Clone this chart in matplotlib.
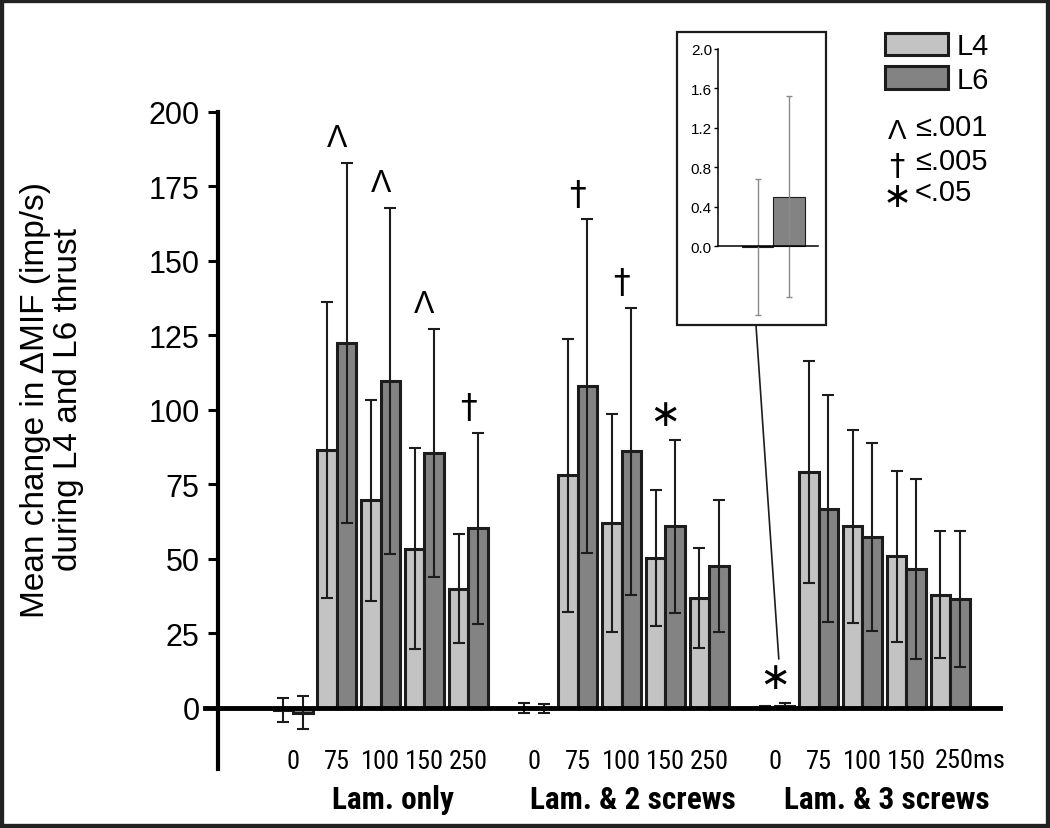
import matplotlib
matplotlib.use("Agg")
import matplotlib.pyplot as plt
import numpy as np
from matplotlib.patches import Rectangle, ConnectionPatch

plt.rcParams['font.family'] = ['Liberation Sans', 'DejaVu Sans']
NARROW = ['Liberation Sans Narrow', 'Roboto Condensed', 'DejaVu Sans']

# --- data ---
delays = ["0", "75", "100", "150", "250"]
conditions = ["Lam. only", "Lam. & 2 screws", "Lam. & 3 screws"]

l4_mean = [-0.8, 86.5, 69.5, 53.3, 39.9,
           -0.2, 77.9, 61.9, 50.2, 36.7,
           -0.01, 79.1, 60.8, 50.7, 37.9]
l4_err = [4.0, 49.7, 33.6, 33.8, 18.3,
          1.6, 45.7, 36.6, 22.8, 16.8,
          0.69, 37.2, 32.3, 28.7, 21.2]
l6_mean = [-1.7, 122.3, 109.5, 85.4, 60.2,
           -0.3, 107.8, 86.0, 60.8, 47.4,
           0.5, 66.8, 57.3, 46.5, 36.4]
l6_err = [5.6, 60.4, 58.1, 41.6, 32.0,
          1.6, 56.0, 48.2, 29.0, 22.2,
          1.02, 38.1, 31.5, 30.3, 22.9]

# significance marks: (bar pair index, symbol)
sig_marks = [(1, "Λ"), (2, "Λ"), (3, "Λ"), (4, "†"),
             (6, "†"), (7, "†"), (8, "∗"),
             (10, "∗")]

# inset: Lam. & 3 screws at 0 ms
inset_mean = [l4_mean[10], l6_mean[10]]
inset_err = [l4_err[10], l6_err[10]]

c_l4 = "#c3c3c3"
c_l6 = "#838383"
edge = "#1c1c1c"

sym_style = {"Λ": dict(fontsize=22, family=['Liberation Sans']),
             "†": dict(fontsize=24, family=['DejaVu Sans']),
             "∗": dict(fontsize=27, family=['DejaVu Sans'])}

# bar pair positions: 5 per group, 1.5 unit gap between groups
pos = np.concatenate([np.arange(5) + g * 5.5 for g in range(3)])
w = 0.445

fig = plt.figure(figsize=(10.5, 8.29), dpi=100)
W, H = 1050, 829
ax = fig.add_axes([205 / W, 1 - 770 / H, 795 / W, (770 - 112.5) / H])

ekw = dict(ecolor=edge, elinewidth=1.5, capsize=4.5, capthick=1.5)
b4 = ax.bar(pos - w / 2, l4_mean, w, yerr=l4_err, color=c_l4, edgecolor=edge,
            linewidth=2.2, error_kw=ekw, label="L4", zorder=2)
b6 = ax.bar(pos + w / 2, l6_mean, w, yerr=l6_err, color=c_l6, edgecolor=edge,
            linewidth=2.2, error_kw=ekw, label="L6", zorder=2)

ax.set_xlim(-2.01, 16.14)
ax.set_ylim(-20.6, 200)
for s in ["top", "right"]:
    ax.spines[s].set_visible(False)
ax.spines["left"].set_position(("data", -1.72))
ax.spines["left"].set_linewidth(3)
ax.spines["bottom"].set_position(("data", 0))
ax.spines["bottom"].set_linewidth(3.5)
ax.spines["bottom"].set_zorder(3)

ax.set_yticks(np.arange(0, 201, 25))
ax.tick_params(axis="y", direction="out", length=7, width=2.2, pad=6,
               labelsize=22)

# delay labels under each bar pair; the last one carries the unit
ax.set_xticks(pos[:-1])
ax.set_xticklabels((delays * 3)[:-1])
ax.tick_params(axis="x", length=0, pad=30, labelsize=19)
for t in ax.get_xticklabels():
    t.set_family(NARROW)
    t.set_stretch("condensed")
ax.annotate(delays[-1] + "ms", (pos[-1], 0), xytext=(-11, -29),
            textcoords="offset points", ha="left", va="top", fontsize=19,
            family=NARROW, fontstretch="condensed", annotation_clip=False)

# group labels
for gx, name in zip([2.28, 7.76, 13.55], conditions):
    ax.annotate(name, (gx, 0), xytext=(0, -66), textcoords="offset points",
                ha="center", va="center", fontsize=22.5, fontweight="bold",
                family=NARROW, fontstretch="condensed",
                annotation_clip=False)

# significance symbols above the higher error cap
for i, sym in sig_marks:
    top = max(l4_mean[i] + l4_err[i], l6_mean[i] + l6_err[i])
    ax.annotate(sym, (pos[i], top), xytext=(0, 18), textcoords="offset points",
                ha="center", va="center", annotation_clip=False,
                **sym_style[sym])

fig.text(52 / W, 1 - 400 / H,
         "Mean change in \u0394MIF (imp/s)\nduring L4 and L6 thrust",
         rotation=90, ha="center", va="center", fontsize=24, linespacing=1.1)

# legend
ax.legend(handles=[b4, b6], loc="upper left",
          bbox_to_anchor=(885 / W, 1 - 33 / H), bbox_transform=fig.transFigure,
          frameon=False, fontsize=21, handlelength=2.17, handleheight=0.82,
          handletextpad=0.3, labelspacing=0.2, borderpad=0, borderaxespad=0)

keys = [("Λ", "≤.001"), ("†", "≤.005"), ("∗", "<.05")]
for k, (sym, txt) in enumerate(keys):
    yc = [128, 162, 193][k]
    fig.text(915 / W, 1 - yc / H, txt, ha="left", va="center", fontsize=21)
    st = dict(sym_style[sym])
    st["fontsize"] -= 2
    fig.text(897 / W, 1 - (yc + 4) / H, sym, ha="center", va="center", **st)

# inset
axi = fig.add_axes([677 / W, 1 - 326 / H, 149 / W, 293 / H])
axi.bar([0, 1], inset_mean, 1.0, yerr=inset_err, color=[c_l4, c_l6],
        edgecolor=edge, linewidth=0.8,
        error_kw=dict(ecolor="#8a8a8a", elinewidth=1, capsize=2.5, capthick=1))
axi.set_xlim(-2.54, 2.16)
axi.set_ylim(-0.80, 2.17)
axi.spines["top"].set_visible(False)
axi.spines["right"].set_visible(False)
axi.spines["left"].set_position(("data", -1.24))
axi.spines["left"].set_bounds(0, 2.0)
axi.spines["bottom"].set_position(("data", 0))
axi.spines["bottom"].set_bounds(-1.24, 1.9)
for s in ["left", "bottom"]:
    axi.spines[s].set_linewidth(1.1)
axi.set_xticks([])
axi.set_yticks(np.arange(0, 2.01, 0.4))
axi.set_yticklabels([f"{v:.1f}" for v in np.arange(0, 2.01, 0.4)])
axi.tick_params(axis="y", length=3, width=1, labelsize=11, pad=1.5)
axi.patch.set_alpha(0)
axi.add_patch(Rectangle((0, 0), 1, 1, transform=axi.transAxes, fill=False,
                        lw=1.6, edgecolor=edge, clip_on=False))

con = ConnectionPatch(xyA=(0.53, 0), coordsA=axi.transAxes,
                      xyB=(11.09, 16.3), coordsB=ax.transData,
                      color=edge, lw=1.2)
fig.add_artist(con)

# outer frame
fig.add_artist(Rectangle((0, 0), 1, 1, transform=fig.transFigure, fill=False,
                         lw=6, edgecolor="#222222"))

fig.savefig("out.png", dpi=100)
